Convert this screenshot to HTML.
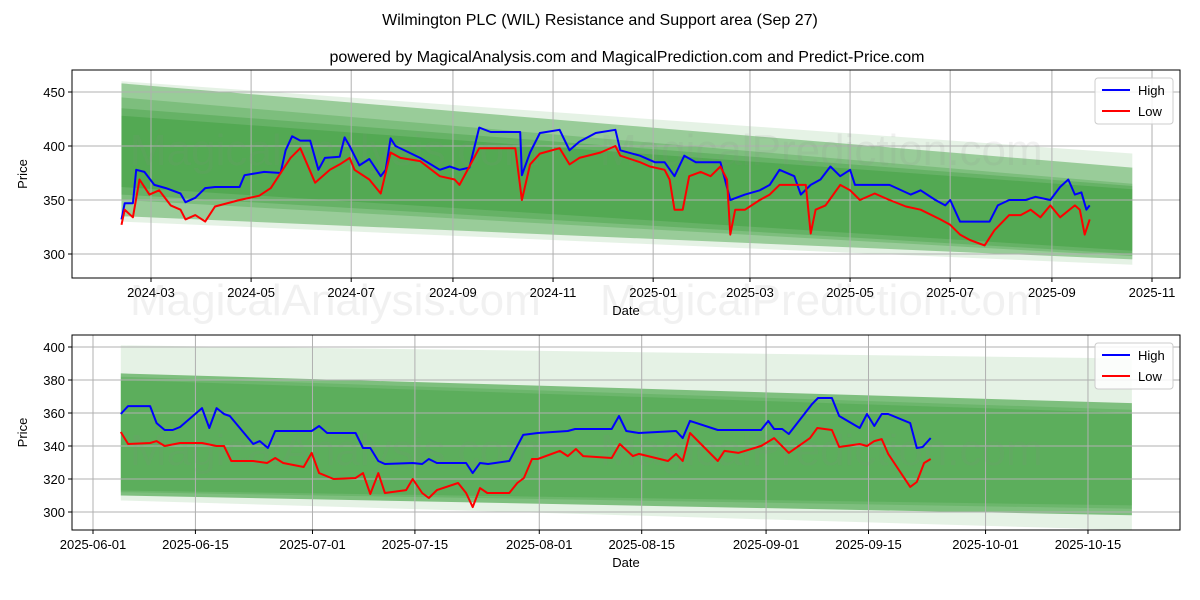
<!DOCTYPE html>
<html><head><meta charset="utf-8"><style>
body{margin:0;background:#fff}
svg{display:block;font-family:"Liberation Sans","DejaVu Sans",sans-serif}
</style></head><body>
<svg id="c" width="1200" height="600" xmlns="http://www.w3.org/2000/svg">
<rect width="1200" height="600" fill="#fff"/>
<text x="600" y="25" text-anchor="middle" font-size="16">Wilmington PLC (WIL) Resistance and Support area (Sep 27)</text>
<text x="627" y="62" text-anchor="middle" font-size="16">powered by MagicalAnalysis.com and MagicalPrediction.com and Predict-Price.com</text>
<g id="top"></g>
<g id="bot"></g>
</svg>
<script>
// ---- top chart data (days since 2024-03-01) ----
const topHighDays=[-18,-16,-11,-9,-4,2,9,18,21,27,33,39,54,57,69,79,82,86,91,97,102,106,115,118,121,127,133,140,143,146,149,164,176,182,188,194,200,207,225,226,231,237,249,255,261,271,283,286,298,307,313,319,325,332,341,347,353,362,371,377,383,392,396,402,408,414,420,426,429,438,444,450,463,469,478,484,487,493,511,516,523,533,539,548,554,559,563,567,570,572];
const topHigh=[332,347,347,378,376,364,361,356,348,352,361,362,362,373,376,375,396,409,405,405,378,389,390,408,400,382,388,372,378,407,400,389,378,381,378,380,417,413,413,373,394,412,415,396,404,412,415,396,391,385,385,372,391,385,385,385,350,355,359,364,378,372,355,364,369,381,372,378,364,364,364,364,355,359,350,345,350,330,330,345,350,350,353,350,362,369,355,357,341,345];
const topLowDays=[-18,-16,-11,-7,-1,5,12,18,21,27,33,39,54,66,73,85,91,100,109,115,121,124,133,140,146,152,164,176,185,188,200,213,222,226,231,237,249,255,261,274,283,286,298,304,313,316,319,324,328,335,341,347,351,353,356,362,371,377,383,392,399,402,405,411,420,426,432,441,450,460,469,481,487,493,499,508,514,523,530,536,542,548,554,563,566,569,572];
const topLow=[327,341,334,369,355,359,345,341,332,336,330,344,350,354,361,389,398,366,378,383,389,378,369,356,394,389,386,372,369,364,398,398,398,350,383,393,398,383,389,394,400,391,385,381,378,369,341,341,372,376,372,381,369,318,341,341,350,355,364,364,364,319,341,345,364,359,350,356,350,344,341,332,327,318,313,308,322,336,336,341,334,345,334,345,341,318,332];
const topTicks=["2024-03","2024-05","2024-07","2024-09","2024-11","2025-01","2025-03","2025-05","2025-07","2025-09","2025-11"];
const topTickDays=[0,61,122,184,245,306,365,426,487,549,610];
const topYTicks=[300,350,400,450];
// band values: [startTop,startBot,endTop,endBot]
const topBands=[[460,330,393,290],[458,335,380,295],[445,350,365,298],[435,355,363,300],[428,362,360,303]];
const topBandDays=[-18,598];

// ---- bottom chart data (days since 2025-06-01) ----
const botHighDays=[3.8,4.8,7.8,8.7,9.8,10.9,11.9,14.9,15.9,16.9,17.9,18.7,21.9,22.8,23.9,24.9,29.9,30.9,32,35.9,36.9,37.9,39,39.9,43.7,45,45.9,47,51,51.9,52.9,54,56.9,58.8,60.8,64.9,65.9,70.9,71.9,72.9,74.6,79.7,80.6,81.6,85.4,91.3,92.3,93.1,94.2,95.1,98.3,99.1,101,102,104.8,105.8,106.8,107.8,108.7,111.7,112.6,113.4,114.5];
const botHigh=[359.4,364.2,364.2,353.9,349.7,349.7,351.5,363,350.9,363,359.4,358.2,341.2,343,338.8,349.1,349.1,352.1,347.9,347.9,338.8,338.8,330.9,329.1,329.7,329.1,332.1,329.7,329.7,323.6,329.7,329.1,330.9,346.7,347.9,349.1,350.3,350.3,358.2,349.1,347.9,349.1,344.8,355.2,349.7,349.7,355.2,350.3,350.3,347.3,365.5,369.1,369.1,358.2,350.9,359.4,352.1,359.4,359.4,353.9,338.8,339.4,344.8];
const botLowDays=[3.8,4.8,7.8,8.7,9.8,11.9,14.9,16.9,17.9,18.9,21.9,23.8,24.9,26,28.8,29.9,30.9,32.9,35.9,36.9,37.9,39,39.9,42.8,43.7,45,45.9,47,49.9,51,51.9,52.9,53.9,56.9,58,58.9,60,60.8,63.8,64.9,66,67,70.9,72,73.8,74.6,78.6,79.7,80.6,81.6,85.4,86.3,88.2,91.3,93.1,95.1,98,99,101,102,104.8,105.8,106.8,107.8,108.7,111.7,112.6,113.6,114.5];
const botLow=[348.5,341.2,341.8,343,340,341.8,341.8,340,340,330.9,330.9,329.7,332.7,329.7,327.3,335.8,323.6,320,320.6,323.6,310.9,323.6,311.5,313.3,320,311.5,308.5,313.3,317.6,311.5,303,314.5,311.5,311.5,317.6,320.6,332.1,332.1,337,333.9,338.2,333.9,332.7,341.2,333.9,335.2,330.9,335.2,330.9,347.9,330.9,337,335.8,340,344.8,335.8,344.8,350.9,349.7,339.4,341.2,340,343,344.2,335.2,315.2,318.2,329.7,332.1];
const botTicks=["2025-06-01","2025-06-15","2025-07-01","2025-07-15","2025-08-01","2025-08-15","2025-09-01","2025-09-15","2025-10-01","2025-10-15"];
const botTickDays=[0,14,30,44,61,75,92,106,122,136];
const botYTicks=[300,320,340,360,380,400];
const botBands=[[401,307,393,289],[384,310,366,298],[382,312,362,302],[380,313,360,304]];
const botBandDays=[3.8,142];

const NS="http://www.w3.org/2000/svg";
function mk(parent,tag,attrs){const e=document.createElementNS(NS,tag);for(const k in attrs)e.setAttribute(k,attrs[k]);parent.appendChild(e);return e;}

function panel(g,cfg){
  const {L,R,T,B,x0,xk,y0,yk}=cfg;
  const X=d=>x0+d*xk, Y=v=>y0-(v-cfg.v0)*yk;
  cfg.bands.forEach((b,i)=>{
    const p=mk(g,'polygon',{points:`${X(cfg.bandDays[0])},${Y(b[0])} ${X(cfg.bandDays[1])},${Y(b[2])} ${X(cfg.bandDays[1])},${Y(b[3])} ${X(cfg.bandDays[0])},${Y(b[1])}`,fill:'#008000','fill-opacity':cfg.alphas[i]});
    
    
  });
  cfg.xticks.forEach((t,i)=>{
    const x=X(cfg.xtickDays[i]);
    const l=mk(g,'line',{x1:x,x2:x,y1:T,y2:B,stroke:'#b0b0b0','stroke-width':1});
    
    
    mk(g,'line',{x1:x,x2:x,y1:B,y2:B+4,stroke:'#000'});
    const tx=mk(g,'text',{x:x,y:B+19,'text-anchor':'middle','font-size':13});
    tx.textContent=t;
    
    
  });
  cfg.yticks.forEach(v=>{
    const y=Y(v);
    const l=mk(g,'line',{x1:L,x2:R,y1:y,y2:y,stroke:'#b0b0b0','stroke-width':1});
    
    
    mk(g,'line',{x1:L-4,x2:L,y1:y,y2:y,stroke:'#000'});
    const tx=mk(g,'text',{x:L-7,y:y+5,'text-anchor':'end','font-size':13});
    tx.textContent=v;
    
    
  });
  cfg.marks.forEach(m=>{
    const w=mk(g,'text',{x:m[0],y:m[1],'font-size':44,fill:'#888','fill-opacity':0.12});
    w.textContent=m[2];
    
    
  });
  const line=(days,vals,color,name)=>{
    const pts=days.map((d,i)=>X(d).toFixed(1)+','+Y(vals[i]).toFixed(1)).join(' ');
    const p=mk(g,'polyline',{points:pts,fill:'none',stroke:color,'stroke-width':2,'stroke-linejoin':'round'});
    
    
  };
  line(cfg.hd,cfg.hv,'#0000ff','high-line');
  line(cfg.ld,cfg.lv,'#ff0000','low-line');
  const f=mk(g,'rect',{x:L,y:T,width:R-L,height:B-T,fill:'none',stroke:'#000','stroke-width':1});
  
  
  const xt=mk(g,'text',{x:(L+R)/2,y:B+37,'text-anchor':'middle','font-size':13});
  xt.textContent='Date';
  
  
  const yt=mk(g,'text',{x:0,y:0,'text-anchor':'middle','font-size':13,transform:`translate(27,${(T+B)/2}) rotate(-90)`});
  yt.textContent='Price';
  
  
  const lg=mk(g,'g',{});
  
  
  mk(lg,'rect',{x:R-85,y:T+8,width:78,height:46,rx:3,fill:'#fff','fill-opacity':0.85,stroke:'#ccc'});
  [['High','#0000ff'],['Low','#ff0000']].forEach((e,i)=>{
    const y=T+20+i*21;
    const le=mk(lg,'g',{});
    
    
    mk(le,'line',{x1:R-78,x2:R-50,y1:y,y2:y,stroke:e[1],'stroke-width':2});
    const t=mk(le,'text',{x:R-42,y:y+5,'font-size':13});
    t.textContent=e[0];
  });
}
panel(document.getElementById('top'),{L:72,R:1180,T:70,B:278,x0:151,xk:1.641,y0:254,v0:300,yk:1.08,
  bands:topBands,bandDays:topBandDays,alphas:[0.1,0.33,0.18,0.18,0.18],
  xticks:topTicks,xtickDays:topTickDays,yticks:topYTicks,
  hd:topHighDays,hv:topHigh,ld:topLowDays,lv:topLow,
  marks:[[130,165,'MagicalAnalysis.com'],[600,165,'MagicalPrediction.com'],[130,315,'MagicalAnalysis.com'],[600,315,'MagicalPrediction.com']]});
panel(document.getElementById('bot'),{L:72,R:1180,T:335,B:530,x0:93,xk:7.316,y0:512,v0:300,yk:1.65,
  bands:botBands,bandDays:botBandDays,alphas:[0.1,0.45,0.14,0.14],
  xticks:botTicks,xtickDays:botTickDays,yticks:botYTicks,
  hd:botHighDays,hv:botHigh,ld:botLowDays,lv:botLow,
  marks:[[130,465,'MagicalAnalysis.com'],[600,465,'MagicalPrediction.com']]});
</script>
</body></html>
